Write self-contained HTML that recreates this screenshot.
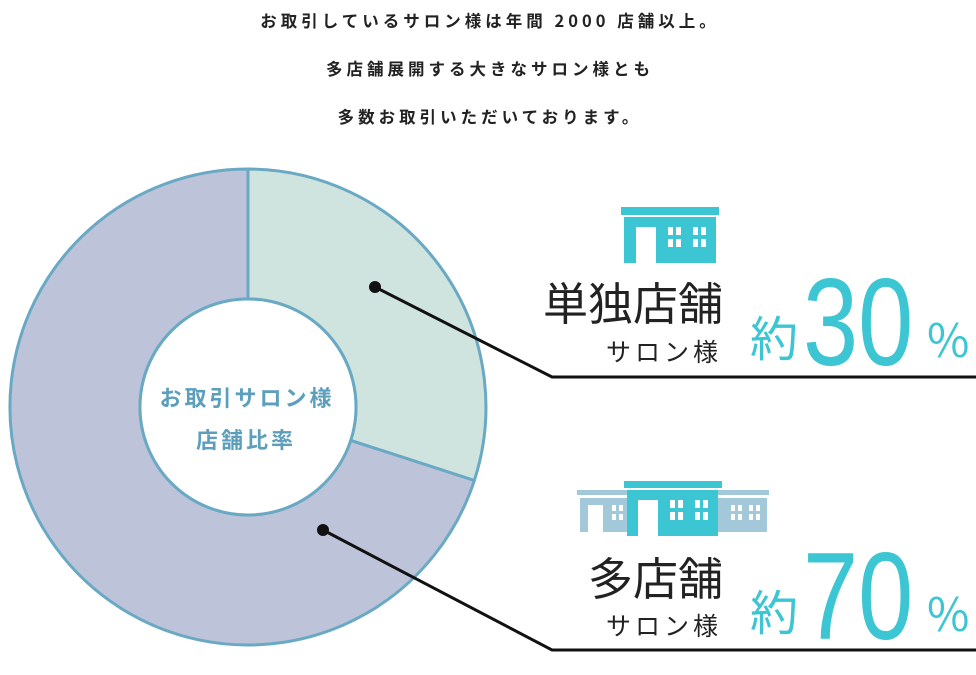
<!DOCTYPE html>
<html><head><meta charset="utf-8"><style>
html,body{margin:0;padding:0;background:#fff;}
svg{display:block;font-family:"Liberation Sans","Noto Sans CJK JP",sans-serif;}
</style></head><body>
<svg width="976" height="675" viewBox="0 0 976 675" xmlns="http://www.w3.org/2000/svg">
<g font-family="'Noto Sans CJK JP',sans-serif" font-weight="bold" font-size="16.5" fill="#222" text-anchor="middle" letter-spacing="4">
<text x="490" y="27">お取引しているサロン様は年間 2000 店舗以上。</text>
<text x="490" y="75">多店舗展開する大きなサロン様とも</text>
<text x="490" y="123">多数お取引いただいております。</text>
</g>
<path d="M248 169 A238 238 0 0 1 474.3 480.5 L350.7 440.4 A108 108 0 0 0 248 299 Z" fill="#cfe3df" stroke="#6aa9c4" stroke-width="3"/>
<path d="M474.3 480.5 A238 238 0 1 1 248 169 L248 299 A108 108 0 1 0 350.7 440.4 Z" fill="#bdc3d9" stroke="#6aa9c4" stroke-width="3"/>
<circle cx="248" cy="407" r="108" fill="#fff" stroke="#6aa9c4" stroke-width="3"/>
<g font-family="'Noto Sans CJK JP',sans-serif" font-weight="bold" font-size="22" fill="#5b9fbd" text-anchor="middle" letter-spacing="3">
<text x="247" y="406">お取引サロン様</text>
<text x="246" y="448">店舗比率</text>
</g>
<circle cx="375" cy="287" r="6" fill="#111"/>
<polyline points="375,287 552,377 976,377" fill="none" stroke="#111" stroke-width="3"/>
<circle cx="323" cy="530" r="6" fill="#111"/>
<polyline points="323,530 552,650 976,650" fill="none" stroke="#111" stroke-width="3"/>
<g fill="#3cc5d2">
<rect x="621" y="207" width="98" height="8"/>
<rect x="624" y="217" width="92" height="46"/>
</g>
<rect x="636" y="227" width="20" height="36" fill="#fff"/>
<g fill="#fff">
<rect x="668" y="227" width="5" height="8"/><rect x="676" y="227" width="5" height="8"/>
<rect x="668" y="239" width="5" height="8"/><rect x="676" y="239" width="5" height="8"/>
<rect x="693" y="227" width="5" height="8"/><rect x="701" y="227" width="5" height="8"/>
<rect x="693" y="239" width="5" height="8"/><rect x="701" y="239" width="5" height="8"/>
</g>
<g fill="#a2c8da">
<rect x="577" y="490" width="50" height="5"/><rect x="580" y="498" width="47" height="34"/>
<rect x="718" y="490" width="51" height="5"/><rect x="718" y="498" width="49" height="34"/>
</g>
<g fill="#fff">
<rect x="588" y="505" width="15" height="27"/>
<rect x="612" y="505" width="4" height="6"/><rect x="619" y="505" width="4" height="6"/>
<rect x="612" y="514" width="4" height="6"/><rect x="619" y="514" width="4" height="6"/>
<rect x="731" y="505" width="4" height="6"/><rect x="738" y="505" width="4" height="6"/>
<rect x="731" y="514" width="4" height="6"/><rect x="738" y="514" width="4" height="6"/>
<rect x="749" y="505" width="4" height="6"/><rect x="756" y="505" width="4" height="6"/>
<rect x="749" y="514" width="4" height="6"/><rect x="756" y="514" width="4" height="6"/>
</g>
<rect x="624" y="481" width="98" height="7" fill="#3cc5d2"/>
<rect x="627" y="490" width="91" height="46" fill="#3cc5d2"/>
<rect x="638" y="500" width="20" height="36" fill="#fff"/>
<g fill="#fff">
<rect x="670" y="500" width="5" height="8"/><rect x="678" y="500" width="5" height="8"/>
<rect x="670" y="512" width="5" height="8"/><rect x="678" y="512" width="5" height="8"/>
<rect x="695" y="500" width="5" height="8"/><rect x="703" y="500" width="5" height="8"/>
<rect x="695" y="512" width="5" height="8"/><rect x="703" y="512" width="5" height="8"/>
</g>
<g font-family="'Noto Sans CJK JP',sans-serif" fill="#222" text-anchor="end">
<text x="723" y="320" font-size="45">単独店舗</text>
<text x="722" y="361" font-size="25" letter-spacing="4">サロン様</text>
<text x="723" y="595" font-size="45">多店舗</text>
<text x="722" y="635" font-size="25" letter-spacing="4">サロン様</text>
</g>
<g font-family="'Noto Sans CJK JP',sans-serif" fill="#3cc5d2">
<text x="750" y="356" font-size="48">約</text>
<text x="750" y="630" font-size="48">約</text>
<text x="927" y="357" font-size="46">%</text>
<text x="927" y="631" font-size="46">%</text>
</g>
<g font-family="'Liberation Sans',sans-serif" fill="#3cc5d2" font-size="124">
<text transform="translate(803,365) scale(0.8,1)">30</text>
<text transform="translate(803,639) scale(0.8,1)">70</text>
</g>
</svg>
</body></html>
